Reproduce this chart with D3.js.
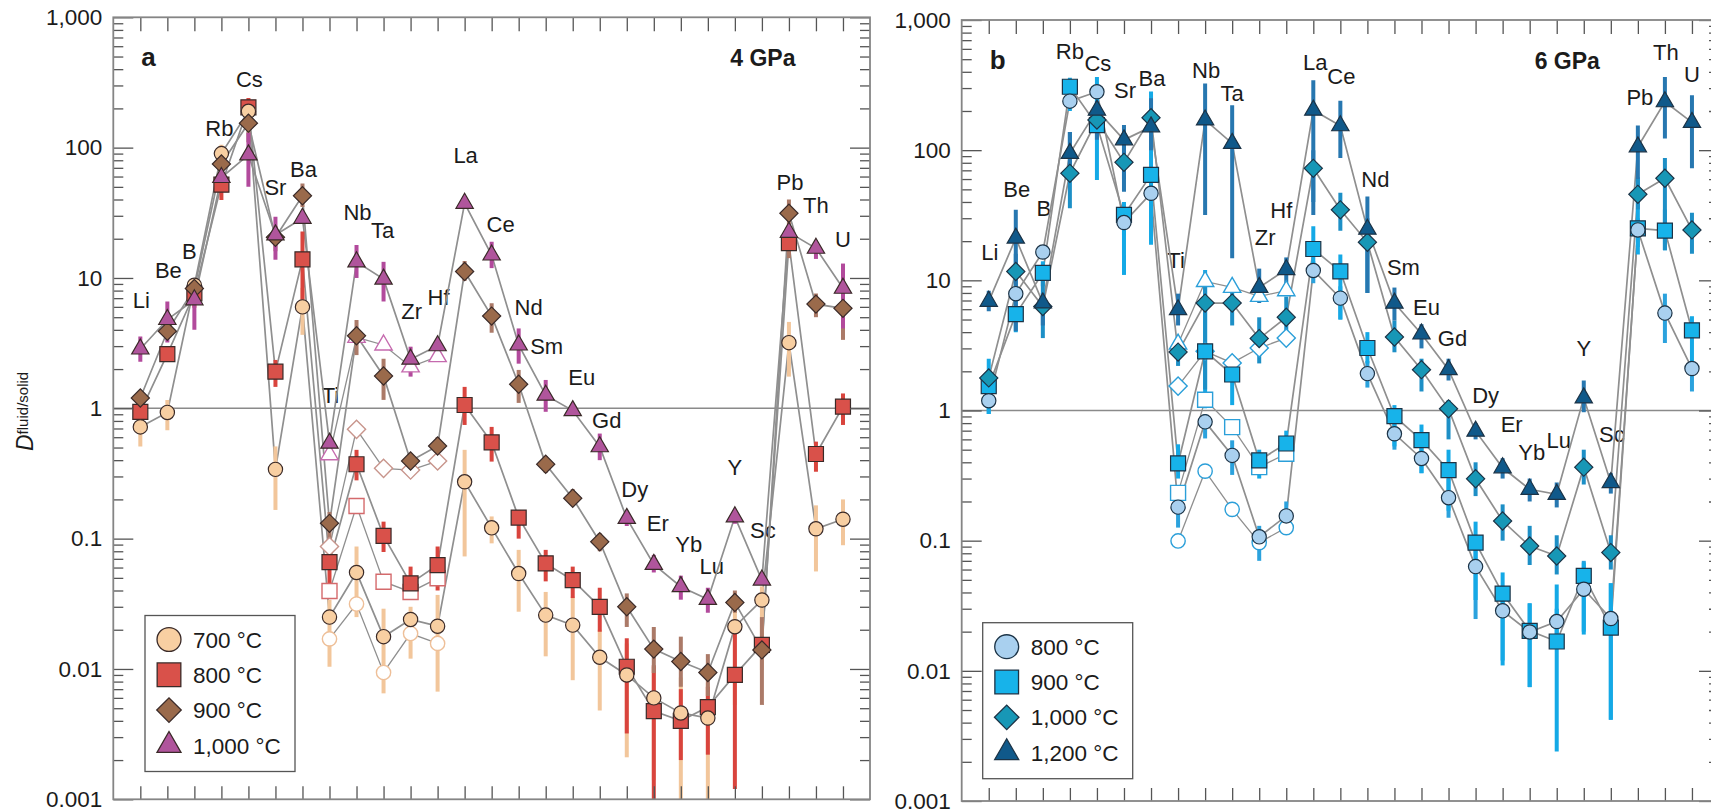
<!DOCTYPE html>
<html>
<head>
<meta charset="utf-8">
<script src="https://cdn.jsdelivr.net/npm/d3@7"></script>
<style>
  body { margin: 0; background: #fff; }
  svg { display: block; font-family: "Liberation Sans", Arial, Helvetica, sans-serif; }
</style>
</head>
<body>
<svg id="chart" width="1711" height="812"></svg>
<script>
// Elements along the x axis
var elements = ["Li", "Be", "B", "Rb", "Cs", "Sr", "Ba", "Ti", "Nb", "Ta", "Zr", "Hf", "La", "Ce",
                "Nd", "Sm", "Eu", "Gd", "Dy", "Er", "Yb", "Lu", "Y", "Sc", "Pb", "Th", "U"];
// elements that also carry open (alternative) symbols
var hfse = ["Ti", "Nb", "Ta", "Zr", "Hf"];

var yTicks = [0.001, 0.01, 0.1, 1, 10, 100, 1000];
var yTickLabels = ["0.001", "0.01", "0.1", "1", "10", "100", "1,000"];

// ---- panel a : 4 GPa ----
var temps4 = ["700 °C", "800 °C", "900 °C", "1,000 °C"];

var a700   = [0.72, 0.93, 8.8, 90, 190, 0.34, 6.0, 0.025, 0.055, 0.0177, 0.024, 0.0213, 0.273, 0.121, 0.054, 0.0259, 0.0217, 0.0123, 0.009, 0.006, 0.0046, 0.0042, 0.0211, 0.0338, 3.19, 0.119, 0.141];
var a700Lo = [0.51, 0.68, null, 72, null, 0.166, 3.66, 0.0104, 0.025, 0.0065, 0.012, 0.0067, 0.073, 0.092, 0.0275, 0.0125, 0.0082, 0.0048, 0.0021, 0.0014, 0.001, 0.001, 0.0053, 0.0098, 1.75, 0.056, 0.089];
var a700Hi = [0.81, 1.16, null, 105, null, 0.51, 8.4, 0.034, 0.087, 0.029, 0.030, 0.037, 0.48, 0.148, 0.082, 0.039, 0.036, 0.020, 0.0157, 0.0104, 0.0086, 0.0078, 0.034, 0.043, 4.6, 0.18, 0.20];
var a700Open = [0.017, 0.0315, 0.0094, 0.0187, 0.0157];

var a800   = [0.94, 2.6, 7.6, 52, 204, 1.91, 13.9, 0.066, 0.372, 0.105, 0.0454, 0.0627, 1.06, 0.548, 0.145, 0.0646, 0.048, 0.030, 0.0104, 0.00475, 0.0040, 0.0051, 0.009, 0.0153, 18.5, 0.446, 1.03];
var a800Lo = [null, null, 5.9, 39.6, 170, 1.46, 6.8, 0.044, 0.28, 0.079, 0.034, 0.040, 0.745, 0.39, 0.10, 0.047, 0.035, 0.0193, 0.0032, 0.001, 0.002, 0.0022, 0.0012, null, 15, 0.326, 0.745];
var a800Hi = [null, null, 8.5, 59.8, 240, 2.35, 22.7, 0.093, 0.48, 0.135, 0.061, 0.087, 1.46, 0.72, 0.166, 0.082, 0.061, 0.042, 0.0172, 0.0107, 0.007, 0.0073, 0.0187, null, 22, 0.555, 1.3];
var a800Open = [0.0396, 0.178, 0.0467, 0.039, 0.0496];

var a900   = [1.2, 3.9, 8.3, 75, 154, 20.5, 42.7, 0.131, 3.6, 1.77, 0.394, 0.514, 11.2, 5.1, 1.53, 0.372, 0.204, 0.0947, 0.030, 0.0142, 0.0114, 0.0094, 0.0324, 0.014, 31.4, 6.3, 5.85];
var a900Lo = [null, null, null, null, 110, 16, 35, 0.097, 2.56, 1.16, 0.34, 0.45, 9.5, 3.8, 1.1, 0.32, 0.18, 0.08, 0.021, 0.0093, 0.0073, 0.0062, 0.027, 0.0053, 14.2, 5.0, 3.35];
var a900Hi = [null, null, null, null, 190, 25, 53, 0.16, 4.76, 2.4, 0.45, 0.6, 13.5, 6.4, 1.97, 0.43, 0.24, 0.11, 0.038, 0.021, 0.0177, 0.013, 0.04, 0.025, 40, 7.6, 6.8];
var a900Open = [0.087, 0.69, 0.346, 0.336, 0.394];

var a1000   = [2.85, 4.8, 6.8, 59, 88, 21.4, 28.7, 0.54, 13.3, 9.8, 2.38, 3.02, 37.4, 15.0, 3.06, 1.26, 0.96, 0.507, 0.143, 0.0635, 0.0428, 0.0342, 0.147, 0.0481, 22.4, 16.9, 8.34];
var a1000Lo = [2.28, 3.2, 4.0, null, 50, 13.8, null, null, 10, 6.6, 1.75, 2.6, null, 11.9, 2.2, 0.94, null, 0.40, 0.125, 0.055, 0.034, 0.027, 0.13, null, null, 14, 4.1];
var a1000Hi = [3.55, 6.6, 7.6, null, 130, 29.5, null, null, 17.9, 13.3, 2.97, 3.4, null, 19, 4.1, 1.65, null, 0.64, 0.16, 0.075, 0.052, 0.042, 0.165, null, null, 19.5, 12.9];
var a1000Open = [0.44, 3.5, 3.06, 2.08, 2.49];

// where the element names sit (value of the text baseline, px shift)
var labelA   = [5.9, 10, 14, 123, 294, 43.4, 59.8, 1.09, 27.9, 20.2, 4.82, 6.21, 75.9, 22.6, 5.2, 2.61, 1.51, 0.703, 0.21, 0.114, 0.079, 0.054, 0.307, 0.102, 46.9, 31.7, 17.4];
var labelDxA = [1, 1, -5, -2, 1, 0, 1, 1, 1, -1, 1, 1, 1, 9, 10, 1, 9, 7, 8, 4, 8, 4, 0, 1, 1, 0, 0];

// ---- panel b : 6 GPa ----
var temps6 = ["800 °C", "900 °C", "1,000 °C", "1,200 °C"];

var b800   = [1.19, 7.9, 16.5, 238, 281, 27.8, 46.6, 0.181, 0.818, 0.452, 0.107, 0.155, 11.9, 7.3, 1.92, 0.662, 0.428, 0.214, 0.0632, 0.0289, 0.0199, 0.0239, 0.0424, 0.0252, 24.4, 5.6, 2.1];
var b800Lo = [0.94, null, null, null, null, 22, 20, 0.126, 0.61, 0.32, 0.07, 0.12, 9.5, 5.0, 1.5, 0.5, 0.33, 0.15, 0.025, 0.012, 0.0075, 0.016, 0.02, 0.0042, 18, 3.3, 1.4];
var b800Hi = [1.4, null, null, null, null, 38, 60, 0.214, 0.94, 0.59, 0.13, 0.2, 14, 9.0, 2.4, 0.85, 0.55, 0.3, 0.1, 0.045, 0.033, 0.03, 0.07, 0.047, 30, 7.9, 2.4];
var b800Open = [0.0995, 0.342, 0.174, 0.0966, 0.126];

var b900   = [1.54, 5.5, 11.4, 307, 156, 31.8, 64.6, 0.392, 2.85, 1.89, 0.414, 0.558, 17.4, 11.7, 3.02, 0.904, 0.592, 0.348, 0.0966, 0.0392, 0.0203, 0.0168, 0.0536, 0.0215, 25.1, 24.1, 4.13];
var b900Lo = [0.94, 4.0, 9, 200, 59, 11, 18.8, 0.3, 1.04, 1.1, 0.3, 0.45, 11, 5, 2.3, 0.53, 0.33, 0.17, 0.035, 0.011, 0.0075, 0.0024, 0.019, 0.0042, 15.8, 17, 2.4];
var b900Hi = [2.5, 7, 14, 360, 365, 40, 282, 0.55, 12, 2.4, 0.5, 0.7, 26, 15.8, 4, 1.1, 0.78, 0.5, 0.14, 0.057, 0.033, 0.046, 0.068, 0.047, 62, 35, 5.3];
var b900Open = [0.233, 1.21, 0.745, 0.367, 0.465];

var b1000   = [1.78, 11.7, 6.3, 66.4, 170.5, 80.6, 177.6, 2.81, 6.69, 6.69, 3.57, 5.2, 72.5, 34.8, 19.6, 3.67, 2.06, 1.03, 0.299, 0.1416, 0.091, 0.0763, 0.367, 0.081, 45.8, 60.8, 24.4];
var b1000Lo = [null, 8, 3.6, 35.8, null, 60, null, 2.2, 1.45, 4.5, 2.3, 4.1, 40, 24, 8, 2.8, 1.4, 0.6, 0.22, 0.1, 0.065, 0.055, 0.27, 0.06, 35, 17, 16];
var b1000Hi = [null, 16, 10.4, 138, null, 110, null, 3.5, 10.6, 9, 5.2, 7.5, 100, 47, 30, 4.9, 2.5, 1.2, 0.4, 0.19, 0.13, 0.11, 0.5, 0.11, 60, 87, 33];
var b1000Open = [1.54, 2.85, 2.32, 3.02, 3.6];

var b1200   = [6.9, 21.1, 6.7, 94.5, 203, 120, 151, 5.95, 170.6, 112.8, 8.83, 12.1, 203, 154, 24.7, 6.68, 3.87, 2.06, 0.694, 0.363, 0.248, 0.227, 1.25, 0.279, 106, 235.5, 163.4];
var b1200Lo = [5.8, 4.06, 4.5, 60, 120, 48, 100, 4.5, 31.8, 14.8, 6.7, 9, 31.8, 87, 8, 4.9, 3.0, 1.7, 0.6, 0.3, 0.2, 0.18, 0.97, 0.23, 60, 123, 72.5];
var b1200Hi = [8.3, 34.8, 8, 138, 240, 156, 250, 7.9, 325, 221, 12.3, 15, 345, 240, 44, 8.8, 4.6, 2.5, 0.8, 0.43, 0.3, 0.28, 1.7, 0.33, 155, 365, 264];
var b1200Open = [3.24, 9.8, 8.83, 7.53, 8.32];

var labelB   = [14.4, 44, 31.3, 506, 405, 250, 312, 12.4, 360, 238, 18.8, 30, 412, 325, 52.5, 11.0, 5.45, 3.11, 1.14, 0.685, 0.414, 0.517, 2.61, 0.574, 222, 492, 335];
var labelDxB = [1, 1, 1, 0, 1, 1, 1, -2, 1, 0, 6, -5, 2, 1, 8, 9, 5, 4, 10, 9, 2, 2, 0, 1, 2, 1, 0];


var svg = d3.select('#chart');

// marker shapes; diamonds are squares turned by 45 degrees
function markerPath(shape, big) {
  var sizes = big ? { circle: 450, square: 560, diamond: 300, triangle: 250 }
                  : { circle: 160, square: 225, diamond: 165, triangle: 130 };
  var type = { circle: d3.symbolCircle, square: d3.symbolSquare, diamond: d3.symbolSquare, triangle: d3.symbolTriangle }[shape];
  return d3.symbol().type(type).size(sizes[shape])();
}
function markerTransform(shape, px, py) {
  return 'translate(' + px + ',' + py + ')' + (shape === 'diamond' ? ' rotate(45)' : '');
}

function drawPanel(p) {
  var x = d3.scaleLinear().domain([-1, elements.length]).range([p.left, p.right]);
  var y = d3.scaleLog().domain([0.001, 1000]).range([p.bottom, p.top]);

  var clipId = 'clip-' + p.id;
  svg.append('clipPath').attr('id', clipId)
     .append('rect')
     .attr('x', p.left).attr('y', p.top)
     .attr('width', p.right - p.left).attr('height', p.bottom - p.top);

  var g = svg.append('g');
  var plot = g.append('g').attr('clip-path', 'url(#' + clipId + ')');

  // element names
  plot.selectAll('text.el')
      .data(elements)
      .enter()
      .append('text')
      .attr('class', 'el')
      .attr('x', function(d, i) { return x(i) + p.labelDx[i]; })
      .attr('y', function(d, i) { return y(p.labelAt[i]); })
      .attr('text-anchor', 'middle')
      .attr('font-size', 22)
      .attr('fill', '#1b1b1b')
      .text(function(d) { return d; });

  // D = 1 reference line
  plot.append('line')
      .attr('x1', p.left).attr('x2', p.right)
      .attr('y1', y(1)).attr('y2', y(1))
      .attr('stroke', '#8a8a8a').attr('stroke-width', 1.5);

  var line = d3.line()
               .defined(function(d) { return d != null; })
               .x(function(d, i) { return x(i); })
               .y(function(d) { return y(d); });

  var openIdx = hfse.map(function(e) { return elements.indexOf(e); });
  var openLine = d3.line()
                   .defined(function(d) { return d != null; })
                   .x(function(d, i) { return x(openIdx[i]); })
                   .y(function(d) { return y(d); });

  // connecting lines
  p.series.forEach(function(s) {
    plot.append('path')
        .attr('d', openLine(s.open))
        .attr('fill', 'none')
        .attr('stroke', '#8f8f8f')
        .attr('stroke-width', 1.3);
  });
  p.series.forEach(function(s) {
    plot.append('path')
        .attr('d', line(s.values))
        .attr('fill', 'none')
        .attr('stroke', '#8f8f8f')
        .attr('stroke-width', 1.7);
  });

  // error bars
  p.series.forEach(function(s) {
    var bars = s.lo.map(function(lo, i) { return { i: i, lo: lo, hi: s.hi[i] }; })
                   .filter(function(d) { return d.lo != null && d.hi != null; });
    plot.selectAll(null)
        .data(bars)
        .enter()
        .append('line')
        .attr('x1', function(d) { return x(d.i); })
        .attr('x2', function(d) { return x(d.i); })
        .attr('y1', function(d) { return y(d.lo); })
        .attr('y2', function(d) { return y(d.hi); })
        .attr('stroke', s.bar)
        .attr('stroke-width', 4);
  });

  // open symbols
  p.series.forEach(function(s) {
    var pts = s.open.map(function(v, k) { return { i: openIdx[k], v: v }; })
                    .filter(function(d) { return d.v != null; });
    plot.selectAll(null)
        .data(pts)
        .enter()
        .append('path')
        .attr('d', markerPath(s.shape, false))
        .attr('transform', function(d) { return markerTransform(s.shape, x(d.i), y(d.v)); })
        .attr('fill', '#fff')
        .attr('stroke', s.openStroke)
        .attr('stroke-width', 1.4);
  });

  // filled symbols
  p.drawOrder.forEach(function(k) {
    var s = p.series[k];
    plot.selectAll(null)
        .data(s.values)
        .enter()
        .append('path')
        .attr('d', markerPath(s.shape, false))
        .attr('transform', function(d, i) { return markerTransform(s.shape, x(i), y(d)); })
        .attr('fill', s.fill)
        .attr('stroke', p.markerStroke)
        .attr('stroke-width', 1.2);
  });

  // axes, ticks pointing inwards
  var minor = y.ticks().filter(function(d) {
    var l = Math.log10(d);
    return Math.abs(l - Math.round(l)) > 1e-6;
  });

  function styleAxis(sel) {
    sel.select('.domain').remove();
    sel.selectAll('.tick line').attr('stroke', '#555').attr('stroke-width', 1.3);
    sel.selectAll('.tick text')
       .attr('font-size', 22.5)
       .attr('fill', '#1b1b1b')
       .attr('font-family', '"Liberation Sans", Arial, Helvetica, sans-serif');
  }

  g.append('g').attr('transform', 'translate(' + p.left + ',0)')
   .call(d3.axisLeft(y).tickValues(yTicks).tickSize(-20).tickPadding(11)
           .tickFormat(function(d, i) { return yTickLabels[i]; }))
   .call(styleAxis);
  g.append('g').attr('transform', 'translate(' + p.left + ',0)')
   .call(d3.axisLeft(y).tickValues(minor).tickSize(-10).tickFormat(''))
   .call(styleAxis);
  g.append('g').attr('transform', 'translate(' + p.right + ',0)')
   .call(d3.axisRight(y).tickValues(yTicks).tickSize(-20).tickFormat(''))
   .call(styleAxis);
  g.append('g').attr('transform', 'translate(' + p.right + ',0)')
   .call(d3.axisRight(y).tickValues(minor).tickSize(-10).tickFormat(''))
   .call(styleAxis);
  g.append('g').attr('transform', 'translate(0,' + p.top + ')')
   .call(d3.axisTop(x).tickValues(d3.range(elements.length)).tickSize(-14).tickFormat(''))
   .call(styleAxis);
  g.append('g').attr('transform', 'translate(0,' + p.bottom + ')')
   .call(d3.axisBottom(x).tickValues(d3.range(elements.length)).tickSize(-13).tickFormat(''))
   .call(styleAxis);

  // frame
  g.append('rect')
   .attr('x', p.left).attr('y', p.top)
   .attr('width', p.right - p.left).attr('height', p.bottom - p.top)
   .attr('fill', 'none')
   .attr('stroke', '#858585')
   .attr('stroke-width', 1.8);

  // panel letter and pressure
  g.append('text')
   .attr('x', p.left + p.letterDx).attr('y', p.top + 49)
   .attr('font-size', 26).attr('font-weight', 'bold').attr('fill', '#1b1b1b')
   .text(p.letter);
  g.append('text')
   .attr('x', p.left + p.titleDx).attr('y', p.top + 49)
   .attr('font-size', 23).attr('font-weight', 'bold').attr('fill', '#1b1b1b')
   .text(p.title);

  // legend
  var lg = g.append('g').attr('transform', 'translate(' + p.legend[0] + ',' + p.legend[1] + ')');
  lg.append('rect')
    .attr('width', 150).attr('height', 156)
    .attr('fill', '#fff').attr('stroke', '#555').attr('stroke-width', 1.3);
  p.series.forEach(function(s, k) {
    var row = lg.append('g').attr('transform', 'translate(0,' + (24 + k * 35.3) + ')');
    row.append('path')
       .attr('d', markerPath(s.shape, true))
       .attr('transform', markerTransform(s.shape, 24, 0))
       .attr('fill', s.fill)
       .attr('stroke', p.markerStroke)
       .attr('stroke-width', 1.3);
    row.append('text')
       .attr('x', 48).attr('dy', '0.36em')
       .attr('font-size', 22.5).attr('fill', '#1b1b1b')
       .text(s.name);
  });
}

drawPanel({
  id: 'a', left: 113.3, right: 870, top: 17.3, bottom: 799.3,
  letter: 'a', letterDx: 28, title: '4 GPa', titleDx: 617,
  legend: [145, 615.5],
  labelAt: labelA, labelDx: labelDxA,
  markerStroke: '#3a2a28',
  drawOrder: [1, 0, 2, 3],
  series: [
    { name: temps4[0], values: a700,  lo: a700Lo,  hi: a700Hi,  open: a700Open,  shape: 'circle',   fill: '#f8cfa2', bar: '#f2c69b', openStroke: '#eebf98' },
    { name: temps4[1], values: a800,  lo: a800Lo,  hi: a800Hi,  open: a800Open,  shape: 'square',   fill: '#d9514a', bar: '#d9443d', openStroke: '#d46a6c' },
    { name: temps4[2], values: a900,  lo: a900Lo,  hi: a900Hi,  open: a900Open,  shape: 'diamond',  fill: '#9a6a4b', bar: '#ab7a68', openStroke: '#c8958c' },
    { name: temps4[3], values: a1000, lo: a1000Lo, hi: a1000Hi, open: a1000Open, shape: 'triangle', fill: '#b0559c', bar: '#b24a9c', openStroke: '#c56aae' }
  ]
});

drawPanel({
  id: 'b', left: 961.7, right: 1719, top: 20, bottom: 801,
  letter: 'b', letterDx: 28, title: '6 GPa', titleDx: 573,
  legend: [982.7, 622.7],
  labelAt: labelB, labelDx: labelDxB,
  markerStroke: '#1c3346',
  drawOrder: [1, 0, 2, 3],
  series: [
    { name: temps6[0], values: b800,  lo: b800Lo,  hi: b800Hi,  open: b800Open,  shape: 'circle',   fill: '#a9d0ef', bar: '#2ba2dd', openStroke: '#2b9fd9' },
    { name: temps6[1], values: b900,  lo: b900Lo,  hi: b900Hi,  open: b900Open,  shape: 'square',   fill: '#17b3ea', bar: '#14a9e6', openStroke: '#2b9fd9' },
    { name: temps6[2], values: b1000, lo: b1000Lo, hi: b1000Hi, open: b1000Open, shape: 'diamond',  fill: '#1797b6', bar: '#1d8fc6', openStroke: '#2b9fd9' },
    { name: temps6[3], values: b1200, lo: b1200Lo, hi: b1200Hi, open: b1200Open, shape: 'triangle', fill: '#10598a', bar: '#2777b0', openStroke: '#2b9fd9' }
  ]
});

// y-axis title, only on panel a
var yl = svg.append('text')
            .attr('transform', 'translate(33,451) rotate(-90)')
            .attr('fill', '#1b1b1b');
yl.append('tspan').attr('font-size', 23).attr('font-style', 'italic').text('D');
yl.append('tspan').attr('font-size', 15).attr('dy', -5).text('fluid/solid');
</script>
</body>
</html>
